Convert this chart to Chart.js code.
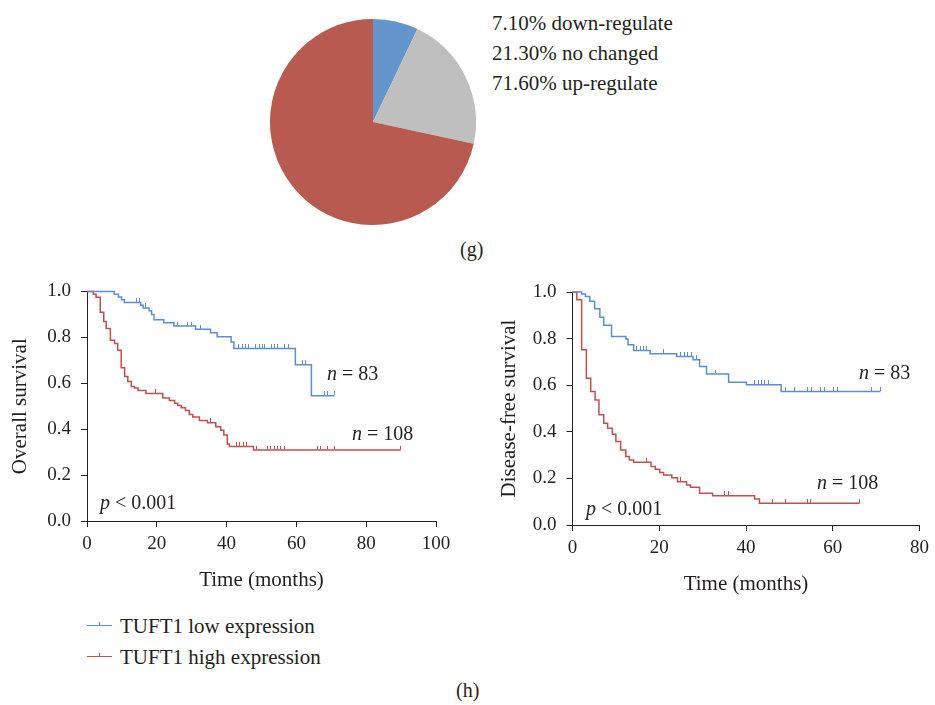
<!DOCTYPE html>
<html>
<head>
<meta charset="utf-8">
<script src="https://cdn.jsdelivr.net/npm/chart.js@4.4.1/dist/chart.umd.min.js"></script>
<style>
    body { margin: 0; background: #fff; }
    #page { position: relative; width: 935px; height: 705px; overflow: hidden; font-family: "Liberation Serif", serif; color: #231f20; }
    #page canvas { position: absolute; }
    .txt { position: absolute; font-size: 20px; line-height: 20px; white-space: nowrap; }
    .key-txt { font-size: 21px; }
    .pie-row { position: absolute; left: 492px; font-size: 21px; line-height: 21px; white-space: nowrap; }
    .key { position: absolute; width: 25px; height: 0; }
    .key span { position: absolute; left: 12px; top: -4px; width: 1px; height: 4px; }
</style>
</head>
<body>
<div id="page">
    <canvas id="pieChart" width="206" height="206" style="left:270px; top:19px;"></canvas>
    <div id="pieLegend"></div>
    <div class="txt" style="left:460px; top:239px;">(g)</div>

    <canvas id="osChart" width="470" height="330" style="left:0px; top:270px;"></canvas>
    <canvas id="dfsChart" width="465" height="330" style="left:470px; top:270px;"></canvas>

    <div class="txt" style="left:327px; top:363px;"><i>n</i> = 83</div>
    <div class="txt" style="left:352px; top:423px;"><i>n</i> = 108</div>
    <div class="txt" style="left:100px; top:492px;"><i>p</i> &lt; 0.001</div>
    <div class="txt" style="left:859px; top:362px;"><i>n</i> = 83</div>
    <div class="txt" style="left:817px; top:472px;"><i>n</i> = 108</div>
    <div class="txt" style="left:586px; top:498px;"><i>p</i> &lt; 0.001</div>

    <div id="kmLegend"></div>
    <div class="txt" style="left:456px; top:680px;">(h)</div>
</div>
<script>
    // pie (g)
    const pieLabels = ['down-regulate', 'no changed', 'up-regulate'];
    const pieValues = [7.10, 21.30, 71.60];
    const pieColors = ['#6495cd', '#bfbfbf', '#b95a51'];

    // Kaplan-Meier series (months, survival)
    const seriesLabels = ['TUFT1 low expression', 'TUFT1 high expression'];
    const seriesColors = ['#5b8ed6', '#c0504d'];

    const osLowTime = [0, 7.8, 9.0, 9.9, 10.7, 15.4, 16.1, 17.8, 18.5, 19.2, 22.0, 24.9, 31.1, 35.4, 37.3, 41.3, 42.1, 59.7, 64.3, 70.9];
    const osLowSurv = [1.0, 0.988, 0.976, 0.964, 0.952, 0.940, 0.928, 0.916, 0.899, 0.876, 0.864, 0.849, 0.835, 0.820, 0.802, 0.780, 0.751, 0.680, 0.546, 0.546];
    const osLowCensor = [14.2, 14.9, 16.8, 26.0, 28.9, 29.9, 32.5, 43.5, 44.5, 45.4, 46.4, 48.4, 49.3, 50.2, 50.9, 52.8, 53.8, 54.7, 56.6, 57.6, 61.7, 62.7, 68.0, 69.0, 70.9];

    const osHighTime = [0, 1.8, 2.6, 3.8, 4.8, 5.5, 6.7, 7.9, 8.8, 9.8, 10.8, 11.7, 12.7, 13.6, 14.6, 16.9, 21.7, 23.6, 25.1, 26.0, 27.0, 28.2, 29.3, 30.3, 32.2, 34.5, 36.9, 38.3, 39.2, 40.2, 40.8, 47.7, 89.9];
    const osHighSurv = [1.0, 0.988, 0.974, 0.909, 0.869, 0.838, 0.787, 0.773, 0.744, 0.668, 0.629, 0.608, 0.586, 0.579, 0.568, 0.555, 0.536, 0.525, 0.513, 0.503, 0.493, 0.481, 0.464, 0.453, 0.438, 0.428, 0.411, 0.395, 0.375, 0.335, 0.325, 0.309, 0.309];
    const osHighCensor = [19.7, 35.5, 42.8, 43.7, 44.7, 45.6, 48.5, 51.8, 52.7, 53.6, 54.6, 55.5, 56.6, 66.1, 67.0, 68.9, 70.9, 89.9];

    const dfsLowTime = [0, 2.1, 3.0, 4.0, 5.1, 6.3, 7.2, 9.0, 12.3, 12.8, 14.1, 17.9, 24.0, 27.8, 29.3, 30.9, 36.0, 40.1, 48.1, 71.0];
    const dfsLowSurv = [1.0, 0.991, 0.981, 0.960, 0.928, 0.892, 0.857, 0.809, 0.798, 0.774, 0.749, 0.735, 0.723, 0.709, 0.680, 0.648, 0.613, 0.602, 0.573, 0.573];
    const dfsLowCensor = [14.8, 15.6, 16.3, 17.1, 21.0, 25.0, 25.8, 26.6, 27.4, 28.6, 33.0, 42.0, 42.8, 43.5, 44.3, 45.1, 49.2, 51.1, 54.2, 55.1, 57.1, 58.0, 60.1, 61.0, 69.0, 71.0];

    const dfsHighTime = [0, 1.0, 2.1, 3.2, 4.2, 5.2, 6.1, 7.2, 8.1, 9.2, 10.0, 11.1, 12.3, 13.1, 14.1, 18.1, 19.1, 20.1, 21.0, 22.9, 24.2, 26.3, 27.2, 29.3, 32.3, 42.0, 43.1, 66.2];
    const dfsHighSurv = [1.0, 0.967, 0.752, 0.630, 0.573, 0.537, 0.473, 0.437, 0.415, 0.390, 0.358, 0.322, 0.294, 0.279, 0.269, 0.251, 0.239, 0.225, 0.215, 0.203, 0.186, 0.172, 0.162, 0.136, 0.126, 0.112, 0.093, 0.093];
    const dfsHighCensor = [17.0, 24.9, 35.1, 36.0, 46.2, 49.2, 54.2, 54.9, 66.2];

    const ink = '#231f20';
    const serif = '"Liberation Serif", serif';

    function survAt(times, surv, t) {
        let s = surv[0];
        for (let i = 0; i < times.length; i += 1) {
            if (times[i] <= t) s = surv[i];
        }
        return s;
    }

    function tickMark(color) {
        const c = document.createElement('canvas');
        c.width = 1;
        c.height = 9;
        const ctx = c.getContext('2d');
        ctx.fillStyle = color;
        ctx.fillRect(0, 0, 1, 4);
        return c;
    }

    function curveSets(times, surv, censor, color) {
        return [{
            data: times.map((t, i) => ({ x: t, y: surv[i] })),
            borderColor: color,
            borderWidth: 1.5,
            stepped: 'before',
            pointRadius: 0,
            fill: false,
            clip: false
        }, {
            data: censor.map((t) => ({ x: t, y: survAt(times, surv, t) })),
            showLine: false,
            pointStyle: tickMark(color),
            pointRadius: 3,
            clip: false
        }];
    }

    function kmChart(id, datasets, xMax, yTitle, box) {
        return new Chart(document.getElementById(id), {
            type: 'line',
            data: { datasets },
            options: {
                responsive: false,
                animation: false,
                layout: { padding: { top: box.top, right: box.right, bottom: box.bottom, left: 0 } },
                plugins: { legend: { display: false }, tooltip: { enabled: false } },
                scales: {
                    x: {
                        type: 'linear',
                        min: 0,
                        max: xMax,
                        ticks: { stepSize: 20, padding: 6, maxRotation: 0, color: ink, font: { family: serif, size: 19 } },
                        grid: { drawOnChartArea: false, drawTicks: true, tickLength: 6, color: ink },
                        border: { color: ink, width: 1 },
                        title: { display: true, text: 'Time (months)', color: ink, font: { family: serif, size: 21 }, padding: { top: 0, bottom: 0 } },
                        afterFit: (s) => { s.height = box.xHeight; }
                    },
                    y: {
                        min: 0,
                        max: 1,
                        ticks: { stepSize: 0.2, padding: 10, color: ink, font: { family: serif, size: 19 }, callback: (v) => v.toFixed(1) },
                        grid: { drawOnChartArea: false, drawTicks: true, tickLength: 6, color: ink },
                        border: { color: ink, width: 1 },
                        title: { display: true, text: yTitle, color: ink, font: { family: serif, size: 21 }, padding: { top: box.yTitlePad, bottom: 0 } },
                        afterFit: (s) => { s.width = box.yWidth; }
                    }
                }
            }
        });
    }

    function initPie() {
        new Chart(document.getElementById('pieChart'), {
            type: 'pie',
            data: {
                labels: pieLabels,
                datasets: [{ data: pieValues, backgroundColor: pieColors, borderWidth: 0 }]
            },
            options: {
                responsive: false,
                animation: false,
                layout: { padding: 0 },
                plugins: { legend: { display: false }, tooltip: { enabled: false } }
            }
        });

        const legend = document.getElementById('pieLegend');
        pieLabels.forEach((label, i) => {
            const row = document.createElement('div');
            row.className = 'pie-row';
            row.style.top = (13 + i * 30) + 'px';
            row.textContent = pieValues[i].toFixed(2) + '% ' + label;
            legend.appendChild(row);
        });
    }

    function initLegend() {
        const legend = document.getElementById('kmLegend');
        seriesLabels.forEach((label, i) => {
            const y = 626 + i * 31;
            const key = document.createElement('div');
            key.className = 'key';
            key.style.left = '87px';
            key.style.top = (y - 1) + 'px';
            key.style.borderTop = '1.5px solid ' + seriesColors[i];
            const tick = document.createElement('span');
            tick.style.background = seriesColors[i];
            key.appendChild(tick);
            legend.appendChild(key);

            const text = document.createElement('div');
            text.className = 'txt key-txt';
            text.style.left = '120px';
            text.style.top = (y - 10) + 'px';
            text.textContent = label;
            legend.appendChild(text);
        });
    }

    initPie();

    kmChart('osChart',
        curveSets(osLowTime, osLowSurv, osLowCensor, seriesColors[0])
            .concat(curveSets(osHighTime, osHighSurv, osHighCensor, seriesColors[1])),
        100, 'Overall survival',
        { top: 19, right: 34, bottom: 7, xHeight: 72, yWidth: 87, yTitlePad: 8 });

    kmChart('dfsChart',
        curveSets(dfsLowTime, dfsLowSurv, dfsLowCensor, seriesColors[0])
            .concat(curveSets(dfsHighTime, dfsHighSurv, dfsHighCensor, seriesColors[1])),
        80, 'Disease-free survival',
        { top: 22, right: 12, bottom: 3, xHeight: 72, yWidth: 102.5, yTitlePad: 27 });

    initLegend();
</script>
</body>
</html>
